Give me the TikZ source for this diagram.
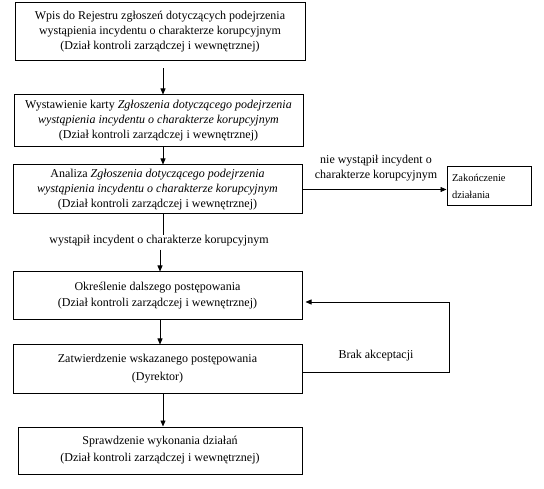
\documentclass[tikz,border=0pt]{standalone}
\usepackage{fontspec}
\setmainfont{Liberation Serif}
\usetikzlibrary{arrows.meta}
\begin{document}
\begin{tikzpicture}[x=1pt,y=-1pt,
  box/.style={draw,line width=1pt,align=center,inner sep=0pt,font=\fontsize{12}{15}\selectfont},
  lbl/.style={align=center,inner sep=2pt,font=\fontsize{12}{15}\selectfont},
  arr/.style={line width=0.75pt,-{Triangle[length=6pt,width=5pt]}},
  ln/.style={line width=0.75pt}]
\useasboundingbox (0,0) rectangle (544,489);
\node[box,minimum width=290pt,minimum height=58pt] (b1) at (160,32)
  {Wpis do Rejestru zgłoszeń dotyczących podejrzenia\\wystąpienia incydentu o charakterze korupcyjnym\\(Dział kontroli zarządczej i wewnętrznej)};
\node[box,minimum width=289pt,minimum height=52pt] (b2) at (158.5,121)
  {Wystawienie karty \textit{Zgłoszenia dotyczącego podejrzenia}\\\textit{wystąpienia incydentu o charakterze korupcyjnym}\\(Dział kontroli zarządczej i wewnętrznej)};
\node[box,minimum width=289pt,minimum height=49pt] (b3) at (157.5,189.5)
  {Analiza \textit{Zgłoszenia dotyczącego podejrzenia}\\\textit{wystąpienia incydentu o charakterze korupcyjnym}\\(Dział kontroli zarządczej i wewnętrznej)};
\node[lbl] (l1) at (159,241) {wystąpił incydent o charakterze korupcyjnym};
\node[box,minimum width=289pt,minimum height=48pt,font=\fontsize{12}{16}\selectfont] (b4) at (157.5,296)
  {Określenie dalszego postępowania\\(Dział kontroli zarządczej i wewnętrznej)};
\node[box,minimum width=289pt,minimum height=48pt,font=\fontsize{12}{18}\selectfont] (b5) at (157.5,369)
  {Zatwierdzenie wskazanego postępowania\\(Dyrektor)};
\node[box,minimum width=284pt,minimum height=47pt,font=\fontsize{12}{17}\selectfont] (b6) at (160,450.5)
  {Sprawdzenie wykonania działań\\(Dział kontroli zarządczej i wewnętrznej)};
\node[draw,line width=1pt,minimum width=84pt,minimum height=39pt,align=left,inner sep=0pt,
  text width=74pt,font=\fontsize{10.5}{15}\selectfont] (z) at (489,186.5)
  {\vspace*{2pt}Zakończenie\\działania};
\node[lbl] (l2) at (376,168) {nie wystąpił incydent o\\charakterze korupcyjnym};
\node[lbl] (l3) at (376,356) {Brak akceptacji};
\coordinate (c1) at (449,372);
\coordinate (c2) at (449,302);
\draw[arr] ([xshift=3pt,yshift=-7pt]b1.south) -- ([xshift=4.5pt]b2.north);
\draw[arr] ([xshift=4.5pt]b2.south) -- ([xshift=5.5pt]b3.north);
\draw[ln] ([xshift=5.5pt]b3.south) -- ([xshift=4pt,yshift=-2pt]l1.north);
\draw[arr] ([xshift=1pt,yshift=-1pt]l1.south) -- ([xshift=2.5pt]b4.north);
\draw[arr] ([xshift=2.5pt]b4.south) -- ([xshift=2.5pt]b5.north);
\draw[arr] ([xshift=5.5pt]b5.south) -- ([xshift=3pt]b6.north);
\draw[arr] (b3.east) -- (b3.east -| z.west);
\draw[ln] (b5.east |- c1) -- (c1) -- (c2);
\draw[arr,shorten >=3pt] (c2) -- (b4.east |- c2);
\end{tikzpicture}
\end{document}
